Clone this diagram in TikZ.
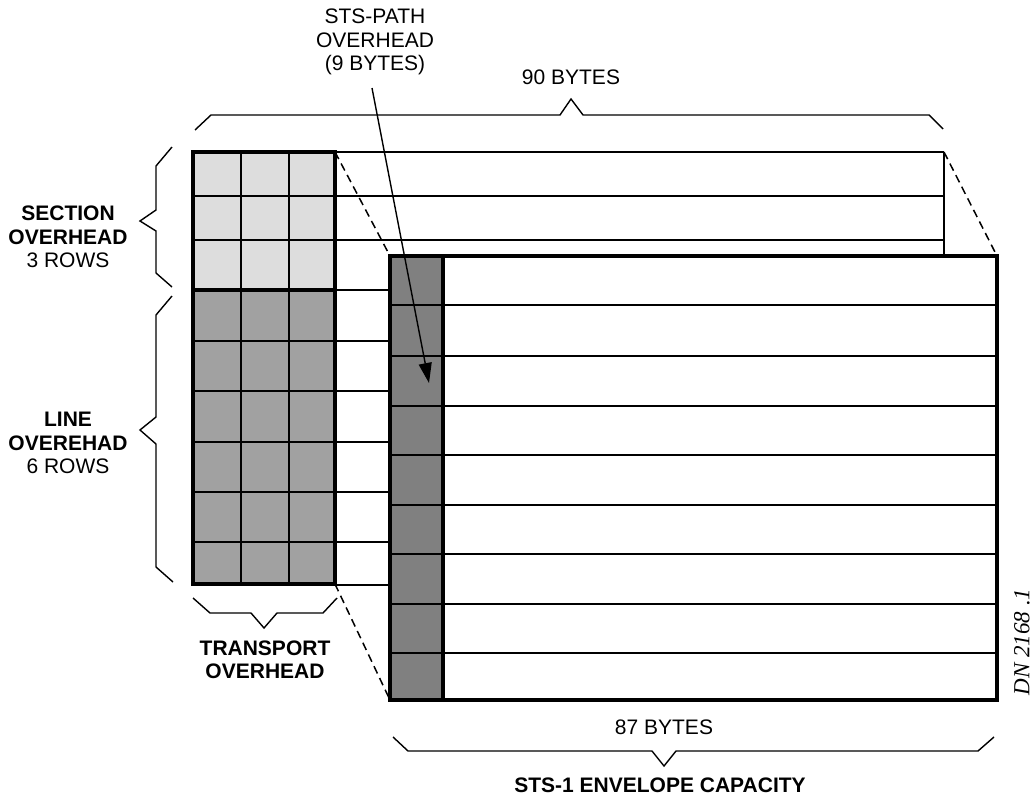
\documentclass[tikz,border=0pt]{standalone}
\usepackage{fontspec}
\setmainfont{Liberation Sans}
\newfontfamily\dnfont{Liberation Serif}
\usetikzlibrary{arrows.meta}
\definecolor{lightg}{gray}{0.865}
\definecolor{midg}{gray}{0.63}
\definecolor{darkg}{gray}{0.5}
\begin{document}
\begin{tikzpicture}[x={(1pt,0pt)},y={(0pt,-1pt)},
  cellline/.style={line width=1.7pt},
  frameline/.style={line width=3.3pt},
  braceline/.style={line width=1.4pt, line join=miter},
  dashline/.style={line width=1.5pt, dash pattern=on 8pt off 5pt},
  lbl/.style={font=\fontsize{21}{23.5}\selectfont, align=center, inner sep=0pt},
  blbl/.style={font=\fontsize{21}{23.5}\selectfont\bfseries, align=center, inner sep=0pt},
]
\useasboundingbox (0,0) rectangle (1036,795);

% ---------- back transport overhead grid ----------
\fill[lightg] (193,152) rectangle (335,290);
\fill[midg] (193,290) rectangle (335,584);
\foreach \x in {241,289} \draw[cellline] (\x,152) -- (\x,584);
\foreach \y in {196,240,341,391,442,492,542} \draw[cellline] (193,\y) -- (335,\y);
\draw[frameline] (193,290) -- (335,290);
\draw[frameline] (193,152) rectangle (335,584);

% ---------- back frame rows ----------
\foreach \y in {152,196,240} \draw[cellline] (335,\y) -- (944,\y);
\draw[cellline] (944,152) -- (944,256);
\foreach \y in {290,341,391,442,492,542,585} \draw[cellline] (335,\y) -- (390,\y);

% ---------- dashed projection lines ----------
\draw[dashline] (335,152) -- (390,256);
\draw[dashline] (944,152) -- (997,256);
\draw[dashline] (335,584) -- (390,700);

% ---------- front STS-1 envelope ----------
\fill[white] (390,256) rectangle (997,700);
\fill[darkg] (390,256) rectangle (443,700);
\foreach \y in {305,356,406,455,505,554,604,653} \draw[cellline] (390,\y) -- (997,\y);
\draw[frameline] (443,256) -- (443,700);
\draw[frameline] (390,256) rectangle (997,700);

% ---------- labels ----------
\node[lbl] (pathlbl) at (375,42) {STS-PATH\\OVERHEAD\\(9 BYTES)};
\node[lbl] (bytes90) at (571,77) {90 BYTES};
\node[lbl] (section) at (68,237) {\textbf{SECTION}\\\textbf{OVERHEAD}\\3 ROWS};
\node[lbl] (line) at (68,443) {\textbf{LINE}\\\textbf{OVEREHAD}\\6 ROWS};
\node[blbl] (transport) at (265,660) {TRANSPORT\\OVERHEAD};
\node[lbl] (bytes87) at (664,727) {87 BYTES};
\node[blbl, anchor=base] (envelope) at (660,792) {STS-1 ENVELOPE CAPACITY};
\node[font=\fontsize{23}{26}\dnfont\itshape, inner sep=0pt, rotate=90] (dn) at (1022,642) {DN 2168 .1};

% ---------- arrow ----------
\coordinate (arrowstart) at (372,88);
\coordinate (arrowtip) at (429,383);
\draw[line width=1.4pt, -{Triangle[length=20pt,width=13pt]}] (arrowstart) -- (arrowtip);

% ---------- braces ----------
\draw[braceline] (195,130) -- (211,115) -- (560,115) -- (571,99) -- (583,115) -- (929,115) -- (943,129);
\draw[braceline] (172,147) -- (156,166) -- (156,210) -- (140,221) -- (156,231) -- (156,273) -- (172,287);
\draw[braceline] (172,296) -- (156,315) -- (156,417) -- (140,430) -- (156,444) -- (156,567) -- (173,582);
\draw[braceline] (193,598) -- (210,613) -- (251,613) -- (264,628) -- (277,613) -- (323,613) -- (337,598);
\draw[braceline] (393,737) -- (408,751) -- (652,751) -- (664,766) -- (676,751) -- (978,751) -- (994,737);
\end{tikzpicture}
\end{document}
